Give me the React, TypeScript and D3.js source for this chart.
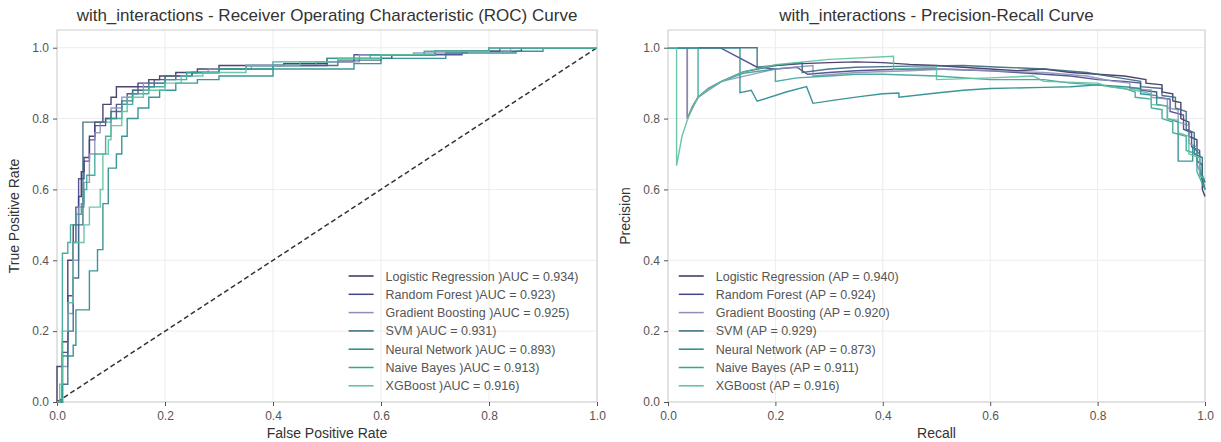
import React, { useEffect, useRef } from "react";
import * as d3 from "d3";

// models / summary numbers
const MODELS = ["Logistic Regression", "Random Forest", "Gradient Boosting", "SVM", "Neural Network", "Naive Bayes", "XGBoost"];
const ROC_AUC = [0.934, 0.923, 0.925, 0.931, 0.893, 0.913, 0.916];
const PR_AP = [0.94, 0.924, 0.92, 0.929, 0.873, 0.911, 0.916];
const COLORS = ["#3b2f5e", "#44448a", "#8f90ba", "#36687e", "#278a8d", "#35a596", "#5cc0a0"];
const TICKS = [0, 0.2, 0.4, 0.6, 0.8, 1.0];

// ROC corners: [fpr, tpr after the jump]
const ROC_LR = [[0, 0], [0, 0.1], [0.01, 0.17], [0.02, 0.4], [0.03, 0.5], [0.04, 0.58], [0.045, 0.65], [0.05, 0.69], [0.06, 0.75], [0.07, 0.79], [0.085, 0.84], [0.1, 0.86], [0.11, 0.89], [0.15, 0.9], [0.17, 0.91], [0.19, 0.92], [0.22, 0.93], [0.26, 0.94], [0.3, 0.95], [0.42, 0.955], [0.5, 0.97], [0.62, 0.98], [0.7, 0.99], [0.8, 1.0], [1, 1]];
const ROC_RF = [[0, 0], [0.01, 0.14], [0.02, 0.3], [0.03, 0.45], [0.035, 0.55], [0.04, 0.63], [0.05, 0.68], [0.06, 0.74], [0.07, 0.78], [0.09, 0.8], [0.11, 0.84], [0.13, 0.87], [0.15, 0.89], [0.18, 0.91], [0.22, 0.92], [0.25, 0.93], [0.3, 0.94], [0.35, 0.95], [0.5, 0.96], [0.55, 0.98], [0.75, 0.99], [0.86, 1.0], [1, 1]];
const ROC_GB = [[0, 0], [0.01, 0.1], [0.02, 0.25], [0.03, 0.4], [0.04, 0.55], [0.05, 0.62], [0.06, 0.7], [0.07, 0.76], [0.08, 0.79], [0.1, 0.83], [0.12, 0.86], [0.14, 0.88], [0.16, 0.9], [0.2, 0.92], [0.24, 0.93], [0.28, 0.94], [0.36, 0.95], [0.48, 0.96], [0.56, 0.98], [0.66, 0.985], [0.76, 0.99], [0.84, 1.0], [1, 1]];
const ROC_SVM = [[0, 0], [0.01, 0.05], [0.02, 0.2], [0.03, 0.35], [0.04, 0.5], [0.048, 0.79], [0.09, 0.8], [0.1, 0.82], [0.12, 0.85], [0.14, 0.88], [0.17, 0.9], [0.2, 0.92], [0.25, 0.93], [0.3, 0.94], [0.4, 0.95], [0.52, 0.965], [0.6, 0.98], [0.7, 0.99], [0.82, 1.0], [1, 1]];
const ROC_NN = [[0, 0], [0.01, 0.13], [0.03, 0.16], [0.035, 0.26], [0.06, 0.37], [0.075, 0.43], [0.085, 0.56], [0.095, 0.66], [0.11, 0.7], [0.12, 0.75], [0.13, 0.8], [0.15, 0.83], [0.17, 0.86], [0.19, 0.88], [0.22, 0.9], [0.26, 0.91], [0.3, 0.92], [0.4, 0.94], [0.55, 0.955], [0.6, 0.97], [0.72, 0.985], [0.85, 0.99], [0.9, 1.0], [1, 1]];
const ROC_NB = [[0, 0], [0.01, 0.42], [0.02, 0.45], [0.025, 0.5], [0.035, 0.53], [0.045, 0.56], [0.05, 0.6], [0.055, 0.64], [0.07, 0.7], [0.09, 0.75], [0.1, 0.8], [0.12, 0.84], [0.14, 0.87], [0.17, 0.89], [0.2, 0.91], [0.24, 0.93], [0.3, 0.94], [0.4, 0.96], [0.5, 0.97], [0.58, 0.98], [0.68, 0.99], [0.8, 1.0], [1, 1]];
const ROC_XGB = [[0, 0], [0.005, 0.05], [0.01, 0.2], [0.02, 0.28], [0.03, 0.45], [0.05, 0.5], [0.06, 0.55], [0.08, 0.6], [0.085, 0.7], [0.095, 0.74], [0.1, 0.78], [0.12, 0.82], [0.13, 0.86], [0.16, 0.88], [0.2, 0.9], [0.23, 0.92], [0.27, 0.93], [0.35, 0.95], [0.45, 0.96], [0.52, 0.97], [0.6, 0.98], [0.7, 0.99], [0.8, 1.0], [1, 1]];

// PR vertices: [recall, precision]
const PR_LR = [[0, 1], [0.036, 1], [0.036, 0.8], [0.046, 0.835], [0.056, 0.86], [0.075, 0.885], [0.1, 0.905], [0.14, 0.932], [0.2, 0.95], [0.25, 0.955], [0.3, 0.958], [0.35, 0.96], [0.4, 0.958], [0.45, 0.953], [0.5, 0.95], [0.55, 0.945], [0.6, 0.94], [0.65, 0.935], [0.7, 0.94], [0.75, 0.93], [0.8, 0.925], [0.85, 0.92], [0.89, 0.91], [0.89, 0.9], [0.92, 0.895], [0.92, 0.875], [0.94, 0.87], [0.94, 0.85], [0.955, 0.845], [0.955, 0.8], [0.97, 0.79], [0.97, 0.75], [0.985, 0.74], [0.985, 0.68], [0.995, 0.67], [0.995, 0.6], [1, 0.58]];
const PR_RF = [[0, 1], [0.097, 1], [0.166, 0.945], [0.2, 0.94], [0.24, 0.945], [0.26, 0.925], [0.3, 0.93], [0.35, 0.935], [0.4, 0.938], [0.45, 0.94], [0.5, 0.94], [0.6, 0.935], [0.65, 0.93], [0.7, 0.925], [0.75, 0.92], [0.8, 0.91], [0.85, 0.905], [0.88, 0.9], [0.88, 0.88], [0.91, 0.875], [0.91, 0.86], [0.935, 0.855], [0.935, 0.82], [0.96, 0.81], [0.96, 0.77], [0.975, 0.76], [0.975, 0.72], [0.99, 0.71], [0.99, 0.66], [1, 0.6]];
const PR_GB = [[0, 1], [0.036, 1], [0.036, 0.8], [0.056, 0.86], [0.1, 0.905], [0.2, 0.94], [0.27, 0.95], [0.27, 0.92], [0.35, 0.93], [0.45, 0.935], [0.52, 0.94], [0.6, 0.935], [0.7, 0.93], [0.78, 0.92], [0.83, 0.905], [0.86, 0.9], [0.86, 0.885], [0.9, 0.88], [0.9, 0.86], [0.93, 0.855], [0.93, 0.83], [0.95, 0.825], [0.95, 0.79], [0.97, 0.78], [0.97, 0.73], [0.985, 0.72], [0.985, 0.67], [1, 0.62]];
const PR_SVM = [[0, 1], [0.166, 1], [0.166, 0.945], [0.2, 0.95], [0.25, 0.958], [0.25, 0.93], [0.3, 0.94], [0.35, 0.945], [0.45, 0.948], [0.55, 0.95], [0.62, 0.945], [0.7, 0.94], [0.78, 0.93], [0.84, 0.915], [0.88, 0.905], [0.88, 0.89], [0.92, 0.885], [0.92, 0.865], [0.945, 0.86], [0.945, 0.83], [0.965, 0.82], [0.965, 0.77], [0.98, 0.76], [0.98, 0.7], [0.995, 0.69], [0.995, 0.64], [1, 0.62]];
const PR_NN = [[0, 1], [0.134, 1], [0.134, 0.873], [0.155, 0.88], [0.166, 0.849], [0.22, 0.875], [0.258, 0.89], [0.27, 0.843], [0.31, 0.852], [0.357, 0.862], [0.4, 0.87], [0.43, 0.872], [0.43, 0.86], [0.5, 0.872], [0.55, 0.88], [0.6, 0.885], [0.7, 0.888], [0.75, 0.89], [0.8, 0.895], [0.85, 0.89], [0.88, 0.885], [0.88, 0.87], [0.91, 0.865], [0.91, 0.84], [0.93, 0.835], [0.93, 0.8], [0.95, 0.79], [0.95, 0.68], [0.977, 0.68], [0.977, 0.72], [0.99, 0.7], [0.99, 0.65], [1, 0.6]];
const PR_NB = [[0, 1], [0.056, 1], [0.056, 0.86], [0.075, 0.885], [0.1, 0.905], [0.14, 0.928], [0.2, 0.94], [0.2, 0.905], [0.24, 0.915], [0.3, 0.92], [0.35, 0.925], [0.4, 0.925], [0.5, 0.92], [0.6, 0.91], [0.7, 0.91], [0.75, 0.9], [0.8, 0.895], [0.85, 0.885], [0.87, 0.875], [0.87, 0.86], [0.9, 0.855], [0.9, 0.83], [0.92, 0.825], [0.92, 0.8], [0.94, 0.79], [0.94, 0.76], [0.965, 0.75], [0.965, 0.71], [0.985, 0.7], [0.985, 0.65], [1, 0.6]];
const PR_XGB = [[0, 1], [0.016, 1], [0.016, 0.667], [0.02, 0.7], [0.026, 0.75], [0.037, 0.8], [0.046, 0.835], [0.056, 0.86], [0.075, 0.885], [0.1, 0.905], [0.14, 0.932], [0.2, 0.952], [0.3, 0.967], [0.42, 0.976], [0.42, 0.94], [0.5, 0.945], [0.5, 0.91], [0.6, 0.915], [0.68, 0.92], [0.7, 0.905], [0.8, 0.9], [0.82, 0.89], [0.87, 0.88], [0.9, 0.87], [0.9, 0.84], [0.93, 0.835], [0.93, 0.8], [0.95, 0.795], [0.95, 0.76], [0.97, 0.75], [0.97, 0.7], [0.99, 0.69], [0.99, 0.64], [1, 0.63]];

const ROC_CURVES = [ROC_LR, ROC_RF, ROC_GB, ROC_SVM, ROC_NN, ROC_NB, ROC_XGB];
const PR_CURVES = [PR_LR, PR_RF, PR_GB, PR_SVM, PR_NN, PR_NB, PR_XGB];

const FONT = "'Liberation Sans', Arial, sans-serif";

function drawPanel(svg, opts) {
  const { x0, x1, title, xLabel, yLabel, curves, curve, labels, roc } = opts;
  const top = 30, bottom = 402;
  const x = d3.scaleLinear().domain([0, 1]).range([x0, x1]);
  const y = d3.scaleLinear().domain([0, 1.05]).range([bottom, top]);

  const g = svg.append("g");

  // grid
  g.selectAll(".gx").data(TICKS).join("line")
    .attr("x1", (d) => x(d)).attr("x2", (d) => x(d))
    .attr("y1", top).attr("y2", bottom)
    .attr("stroke", "#ececec").attr("stroke-width", 1);
  g.selectAll(".gy").data(TICKS).join("line")
    .attr("class", "gy")
    .attr("x1", x0).attr("x2", x1)
    .attr("y1", (d) => y(d)).attr("y2", (d) => y(d))
    .attr("stroke", "#ececec").attr("stroke-width", 1);

  // frame
  g.append("rect")
    .attr("x", x0).attr("y", top)
    .attr("width", x1 - x0).attr("height", bottom - top)
    .attr("fill", "none").attr("stroke", "#d6d6d6").attr("stroke-width", 1.2);

  // axes
  const xAxis = g.append("g")
    .attr("transform", `translate(0,${bottom})`)
    .call(d3.axisBottom(x).tickValues(TICKS).tickFormat(d3.format(".1f")).tickSize(4).tickPadding(5));
  const yAxis = g.append("g")
    .attr("transform", `translate(${x0},0)`)
    .call(d3.axisLeft(y).tickValues(TICKS).tickFormat(d3.format(".1f")).tickSize(4).tickPadding(4));
  [xAxis, yAxis].forEach((a) => {
    a.select(".domain").remove();
    a.selectAll("line").attr("stroke", "#555");
    a.selectAll("text").attr("fill", "#555").style("font-family", FONT).style("font-size", "12px");
  });

  // diagonal reference
  if (roc) {
    g.append("line")
      .attr("x1", x(0)).attr("y1", y(0)).attr("x2", x(1)).attr("y2", y(1))
      .attr("stroke", "#333").attr("stroke-width", 1.5)
      .attr("stroke-dasharray", "5,3");
  }

  const line = d3.line()
    .x((d) => x(d[0]))
    .y((d) => y(d[1]))
    .curve(curve);

  curves.forEach((c, i) => {
    g.append("path")
      .attr("d", line(c))
      .attr("fill", "none")
      .attr("stroke", COLORS[i])
      .attr("stroke-width", 1.4)
      .attr("stroke-opacity", 0.9);
  });

  // titles and labels
  svg.append("text")
    .attr("x", (x0 + x1) / 2).attr("y", 21)
    .attr("text-anchor", "middle")
    .style("font-family", FONT).style("font-size", "17px").attr("fill", "#333")
    .text(title);
  svg.append("text")
    .attr("x", (x0 + x1) / 2).attr("y", 438)
    .attr("text-anchor", "middle")
    .style("font-family", FONT).style("font-size", "14px").attr("fill", "#333")
    .text(xLabel);
  svg.append("text")
    .attr("transform", `translate(${x0 - 38},${(top + bottom) / 2}) rotate(-90)`)
    .attr("text-anchor", "middle")
    .style("font-family", FONT).style("font-size", "14px").attr("fill", "#333")
    .text(yLabel);

  // legend, lower right
  const lx = roc ? x(0.54) : x(0.02);
  const leg = g.append("g");
  labels.forEach((lab, i) => {
    const ly = 276 + i * 18.3;
    leg.append("line")
      .attr("x1", lx).attr("x2", lx + 25)
      .attr("y1", ly).attr("y2", ly)
      .attr("stroke", COLORS[i]).attr("stroke-width", 1.5);
    leg.append("text")
      .attr("x", lx + 37).attr("y", ly + 4.5)
      .style("font-family", FONT).style("font-size", "12.5px").attr("fill", "#555")
      .text(lab);
  });
}

export default function App() {
  const ref = useRef(null);

  useEffect(() => {
    const svg = d3.select(ref.current);
    svg.selectAll("*").remove();

    drawPanel(svg, {
      x0: 57, x1: 597,
      title: "with_interactions - Receiver Operating Characteristic (ROC) Curve",
      xLabel: "False Positive Rate",
      yLabel: "True Positive Rate",
      curves: ROC_CURVES,
      curve: d3.curveStepAfter,
      labels: MODELS.map((m, i) => `${m} )AUC = ${ROC_AUC[i].toFixed(3)})`),
      roc: true,
    });
    drawPanel(svg, {
      x0: 668, x1: 1205,
      title: "with_interactions - Precision-Recall Curve",
      xLabel: "Recall",
      yLabel: "Precision",
      curves: PR_CURVES,
      curve: d3.curveLinear,
      labels: MODELS.map((m, i) => `${m} (AP = ${PR_AP[i].toFixed(3)})`),
      roc: false,
    });
  }, []);

  return (
    <svg ref={ref} width={1221} height={442}
      style={{ position: "absolute", left: 0, top: 0, background: "#fff" }} />
  );
}
